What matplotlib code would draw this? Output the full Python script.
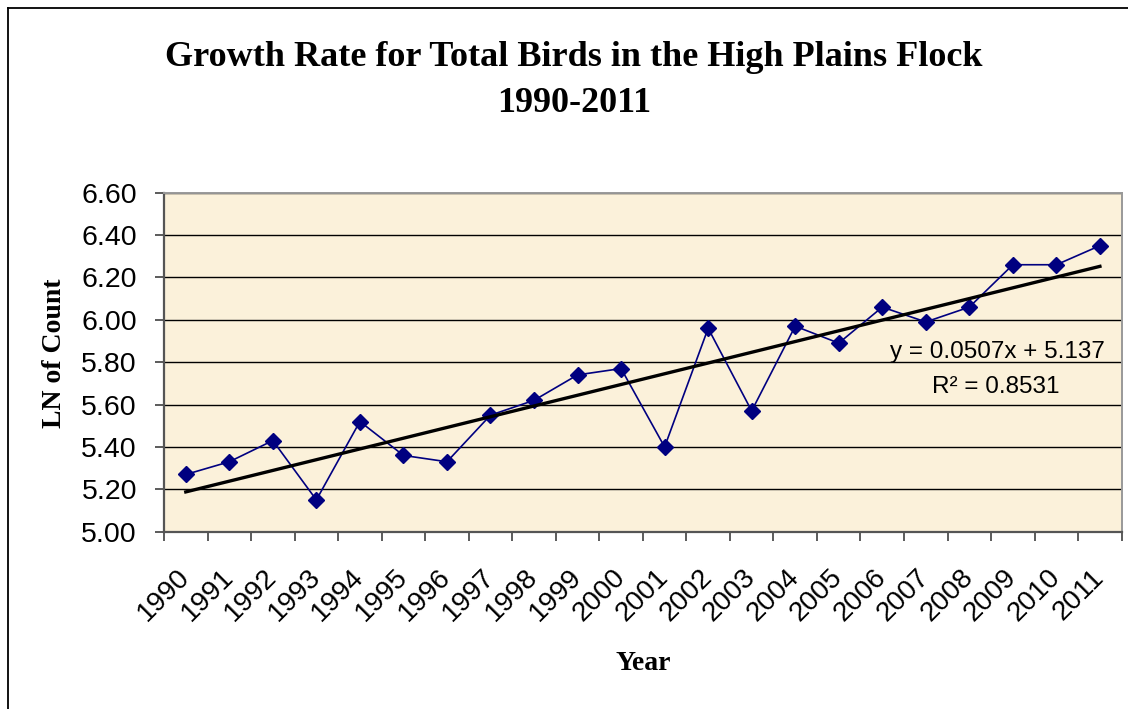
#!/usr/bin/env python3
"""Excel-style line chart: LN of bird count per year with linear trend line."""
import numpy as np
import matplotlib
matplotlib.use("Agg")
import matplotlib.pyplot as plt
from matplotlib.lines import Line2D
from matplotlib.transforms import ScaledTranslation

# ---------------------------------------------------------------- data
years = [str(y) for y in range(1990, 2012)]
ln_count = [5.27, 5.33, 5.43, 5.15, 5.52, 5.36, 5.33, 5.55, 5.62, 5.74, 5.77,
            5.40, 5.96, 5.57, 5.97, 5.89, 6.06, 5.99, 6.06, 6.26, 6.26, 6.35]
trend_slope = 0.0507
trend_intercept = 5.137
r_squared = 0.8531
y_ticks = [5.00, 5.20, 5.40, 5.60, 5.80, 6.00, 6.20, 6.40, 6.60]

NAVY = "#000080"
PAPER = "#FBF1DA"
SERIF = "Liberation Serif"
SANS = "Liberation Sans"

fig = plt.figure(figsize=(11.28, 7.09), dpi=100)
fig.patch.set_facecolor("white")
ax = fig.add_axes([0.1454, 0.2501, 0.8490, 0.4781])
ax.set_facecolor(PAPER)

x = np.arange(len(years))
ax.plot(x, ln_count, color=NAVY, lw=1.2, marker="D", ms=8.5, zorder=3)

# Excel linear trend line (x counted from 1)
xi = x + 1
ax.plot(x, trend_intercept + trend_slope * xi, color="black", lw=2.4, zorder=4)

ax.set_xlim(-0.5, len(years) - 0.5)
ax.set_ylim(5.0, 6.6)
ax.set_yticks(y_ticks)
ax.set_yticklabels([f"{v:.2f}" for v in y_ticks], fontsize=20.5, family=SANS)
ax.yaxis.grid(True, color="black", lw=1.0)
ax.set_axisbelow(True)

ax.set_xticks(x)
ax.set_xticklabels(years, fontsize=20, family=SANS, rotation=45,
                   ha="right", va="center", rotation_mode="anchor")
shift = ScaledTranslation(7 / 100, 3 / 100, fig.dpi_scale_trans)
for lab in ax.get_xticklabels():
    lab.set_transform(lab.get_transform() + shift)
ax.set_xticks(np.arange(len(years) + 1) - 0.5, minor=True)
ax.tick_params(axis="x", which="major", length=0, pad=30)
ax.tick_params(axis="x", which="minor", length=6.5, width=1.2, color="#404040")
ax.tick_params(axis="y", length=6.5, width=1.2, color="#404040", pad=13)

for side in ["left", "bottom"]:
    ax.spines[side].set_color("#555555")
    ax.spines[side].set_linewidth(1.6)
for side in ["top", "right"]:
    ax.spines[side].set_color("#999999")
    ax.spines[side].set_linewidth(1.4)

fig.text(55 / 1128, 1 - 353 / 709, "LN of Count", fontsize=20, family=SERIF,
         fontweight="bold", rotation=90, ha="center", va="center")
fig.text(643 / 1128, 1 - 663 / 709, "Year", fontsize=20, family=SERIF,
         fontweight="bold", ha="center", va="center")

fig.text(574 / 1128, 1 - 58 / 709, "Growth Rate for Total Birds in the High Plains Flock",
         fontsize=26, family=SERIF, fontweight="bold", ha="center", va="center")
fig.text(574 / 1128, 1 - 103 / 709, "1990-2011", fontsize=26, family=SERIF,
         fontweight="bold", ha="center", va="center")

ax.text(0.870, 0.530, f"y = {trend_slope:.4f}x + {trend_intercept:.3f}",
        transform=ax.transAxes, fontsize=17.5, family=SANS, ha="center", va="center")
ax.text(0.869, 0.427, f"R\u00b2 = {r_squared:.4f}",
        transform=ax.transAxes, fontsize=17.5, family=SANS, ha="center", va="center")

# outer chart border (top and left edges visible in the crop)
bx, by = 8 / 1128, 1 - 8 / 709
fig.add_artist(Line2D([bx, 1.0], [by, by], transform=fig.transFigure,
                      color="black", lw=1.3))
fig.add_artist(Line2D([bx, bx], [by, 0.0], transform=fig.transFigure,
                      color="black", lw=1.3))

fig.savefig("out.png", dpi=100, facecolor="white")
